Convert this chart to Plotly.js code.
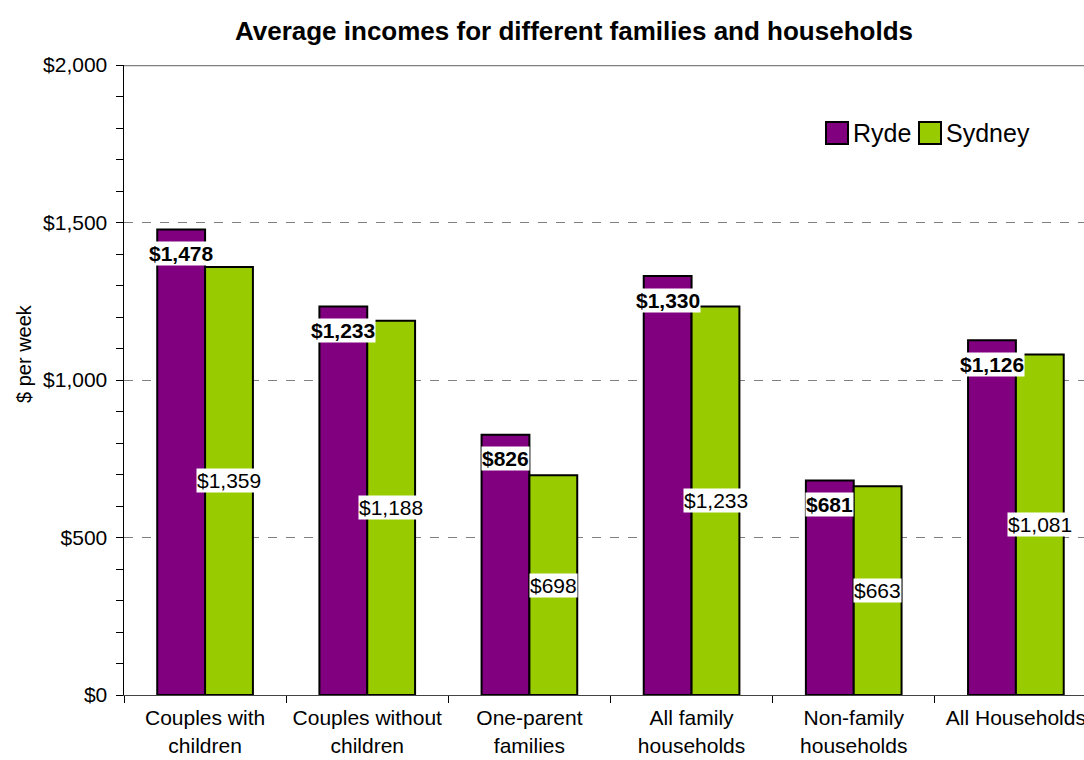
<!DOCTYPE html>
<html>
<head>
<meta charset="utf-8">
<script src="https://cdn.plot.ly/plotly-3.0.1.min.js"></script>
<style>html,body{margin:0;padding:0;overflow:hidden;background:#fff;}</style>
</head>
<body>
<div id="chart" style="width:1084px;height:760px;"></div>
<script>
const categories = ["Couples with<br>children", "Couples without<br>children", "One-parent<br>families", "All family<br>households", "Non-family<br>households", "All Households"];
const ryde = [1478, 1233, 826, 1330, 681, 1126];
const sydney = [1359, 1188, 698, 1233, 663, 1081];
const seriesNames = ["Ryde", "Sydney"];
const seriesColors = ["#800080", "#99CC00"];
const yTickVals = [0, 500, 1000, 1500, 2000];
const yTickText = ["$0", "$500", "$1,000", "$1,500", "$2,000"];

const fmt = v => "$" + v.toLocaleString("en-US");
const FONT = "Liberation Sans, Arial, sans-serif";

const traces = [
  {type: "bar", name: seriesNames[0], x: categories, y: ryde, showlegend: false,
   marker: {color: seriesColors[0], line: {color: "#000", width: 2}}, hoverinfo: "none"},
  {type: "bar", name: seriesNames[1], x: categories, y: sydney, showlegend: false,
   marker: {color: seriesColors[1], line: {color: "#000", width: 2}}, hoverinfo: "none"}
];

const annotations = [];
categories.forEach((c, i) => {
  annotations.push({x: c, y: ryde[i], xref: "x", yref: "y", text: "<b>" + fmt(ryde[i]) + "</b>",
    showarrow: false, xshift: -24, yshift: -24, yanchor: "middle", bgcolor: "#fff", borderpad: 0,
    font: {family: FONT, size: 21, color: "#000"}});
  annotations.push({x: c, y: sydney[i] / 2, xref: "x", yref: "y", text: fmt(sydney[i]),
    showarrow: false, xshift: 24, yanchor: "middle", bgcolor: "#fff", borderpad: 0,
    font: {family: FONT, size: 21, color: "#000"}});
});

// y-axis title
annotations.push({xref: "paper", yref: "paper", x: (24 - 124) / 960, y: (695 - 354) / 630,
  xanchor: "center", yanchor: "middle", textangle: -90, text: "$ per week", showarrow: false,
  font: {family: FONT, size: 20, color: "#000"}});

// custom legend (text + swatches)
const legendX = [826, 919];
const shapes = [{type: "line", xref: "paper", yref: "y", x0: 0, x1: 1, y0: 2000, y1: 2000,
    line: {color: "#808080", width: 2.5}}];
seriesNames.forEach((n, k) => {
  shapes.push({type: "rect", xref: "paper", yref: "paper",
    x0: (legendX[k] - 124) / 960, x1: (legendX[k] + 22 - 124) / 960,
    y0: (695 - 144) / 630, y1: (695 - 122) / 630,
    fillcolor: seriesColors[k], line: {color: "#000", width: 2}});
  annotations.push({xref: "paper", yref: "paper", x: (legendX[k] + 25 - 124) / 960, y: (695 - 133) / 630,
    xanchor: "left", yanchor: "middle", text: n, showarrow: false,
    font: {family: FONT, size: 25, color: "#000"}});
});

const layout = {
  width: 1084, height: 760,
  margin: {l: 124, r: 0, t: 65, b: 65},
  paper_bgcolor: "#fff", plot_bgcolor: "#fff",
  font: {family: FONT, size: 21, color: "#000"},
  title: {text: "<b>Average incomes for different families and households</b>",
    font: {family: FONT, size: 26, color: "#000"}, xref: "container", x: 0.5295, xanchor: "center",
    yref: "container", y: 0.96, yanchor: "middle"},
  barmode: "group", bargap: 0.41, bargroupgap: 0,
  showlegend: false,
  xaxis: {type: "category", range: [-0.5, 5.42], tickson: "boundaries", ticks: "outside",
    ticklen: 7, tickcolor: "#000", showline: true, linecolor: "#444", linewidth: 1,
    ticklabelstandoff: 4,
    showgrid: false, tickfont: {family: FONT, size: 21, color: "#000"}, fixedrange: true},
  yaxis: {range: [0, 2000], tickvals: yTickVals, ticktext: yTickText, ticks: "outside", ticklen: 7,
    tickcolor: "#000", showline: true, linecolor: "#000", linewidth: 1.5,
    ticklabelstandoff: 4,
    showgrid: true, gridcolor: "#808080", griddash: "dash", gridwidth: 1, zeroline: false,
    minor: {dtick: 100, ticks: "outside", ticklen: 7, tickcolor: "#000", showgrid: false},
    tickfont: {family: FONT, size: 21, color: "#000"},
    fixedrange: true},
  shapes: shapes,
  annotations: annotations
};

Plotly.newPlot("chart", traces, layout, {displayModeBar: false, staticPlot: true});
</script>
</body>
</html>
